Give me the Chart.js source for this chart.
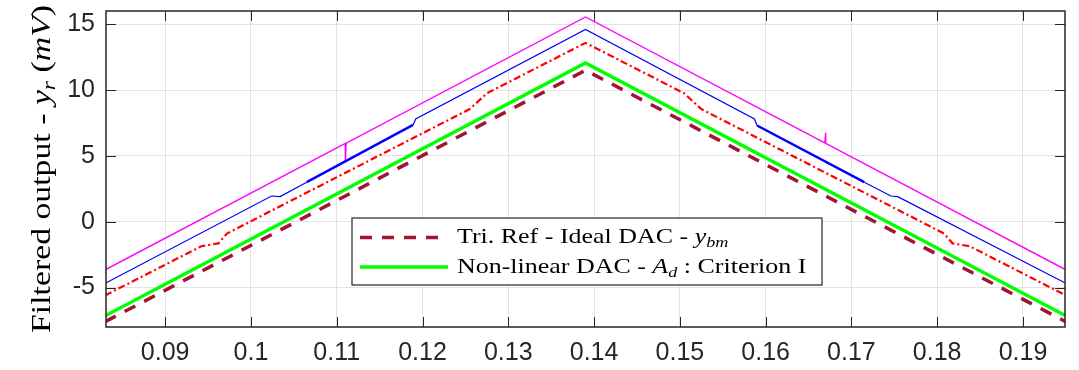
<!DOCTYPE html>
<html lang="en">
<head>
<meta charset="UTF-8">
<title>Filtered output</title>
<script src="https://cdn.jsdelivr.net/npm/chart.js"></script>
<style>
  body { margin: 0; background: #fff; }
  .chart-container { position: relative; width: 1079px; height: 370px; }
</style>
</head>
<body>
<div class="chart-container"><canvas id="outputChart"></canvas></div>
<script>
// axis ticks
const xTicks = [0.09, 0.1, 0.11, 0.12, 0.13, 0.14, 0.15, 0.16, 0.17, 0.18, 0.19];
const xTickLabels = ['0.09', '0.1', '0.11', '0.12', '0.13', '0.14', '0.15', '0.16', '0.17', '0.18', '0.19'];
const yTicks = [-5, 0, 5, 10, 15];
const yTickLabels = ['-5', '0', '5', '10', '15'];

// Tri. Ref - Ideal DAC (dashed)
const refX = [0.083, 0.139, 0.195];
const refY = [-7.6, 11.5, -7.6];

// Non-linear DAC - Criterion I (green)
const nlX = [0.083, 0.139, 0.195];
const nlY = [-7.15, 12.05, -7.15];

// red dash-dot
const redX = [0.083, 0.0942, 0.0962, 0.0972, 0.1255, 0.1275, 0.139, 0.1505, 0.1525, 0.1808, 0.1818, 0.1838, 0.195];
const redY = [-5.6, -1.87, -1.65, -0.9, 8.55, 9.75, 13.58, 9.75, 8.55, -0.9, -1.65, -1.87, -5.6];

// blue
const blueX = [0.083, 0.1024, 0.1034, 0.1065, 0.1189, 0.1192, 0.139, 0.1587, 0.159, 0.1715, 0.1746, 0.1754, 0.195];
const blueY = [-4.68, 1.95, 1.9, 3.0, 7.35, 7.8, 14.6, 7.8, 7.3, 3.0, 1.95, 1.9, -4.68];
const blueNoisy = [[0.1065, 0.1189], [0.159, 0.1715]];

// magenta
const magX = [0.083, 0.111, 0.111, 0.1111, 0.139, 0.1669, 0.167, 0.167, 0.195];
const magY = [-3.66, 5.94, 4.45, 5.97, 15.55, 5.98, 6.75, 5.95, -3.66];

const pts = (xs, ys) => xs.map((x, i) => ({ x: x, y: ys[i] }));

const serif = '"Liberation Serif", "Times New Roman", serif';
const stretch = 1.18;

// rich text: parts are [text, style], style '' | 'i' | 'sub'
function richWidth(ctx, parts, size) {
    let w = 0;
    parts.forEach(([t, s]) => {
        const fs = s === 'sub' ? size * 0.7 : size;
        ctx.font = (s ? 'italic ' : '') + fs + 'px ' + serif;
        w += ctx.measureText(t).width;
    });
    return w;
}
function drawRich(ctx, parts, size) {
    let cx = 0;
    parts.forEach(([t, s]) => {
        const fs = s === 'sub' ? size * 0.7 : size;
        ctx.font = (s ? 'italic ' : '') + fs + 'px ' + serif;
        ctx.fillText(t, cx, s === 'sub' ? size * 0.2 : 0);
        cx += ctx.measureText(t).width;
    });
}

const titleParts = [['Filtered output - ', ''], ['y', 'i'], ['r', 'sub'], [' (', ''], ['mV', 'i'], [')', '']];
const legendEntries = [
    { ds: 0, parts: [['Tri. Ref - Ideal DAC - ', ''], ['y', 'i'], ['bm', 'sub']] },
    { ds: 1, parts: [['Non-linear DAC - ', ''], ['A', 'i'], ['d', 'sub'], [' : Criterion I', '']] }
];

const decor = {
    id: 'decor',
    afterDatasetsDraw(chart) {
        const { ctx, chartArea: a, scales: { x, y } } = chart;
        ctx.save();
        // inner ticks on all four sides
        ctx.strokeStyle = '#262626';
        ctx.lineWidth = 1;
        ctx.beginPath();
        xTicks.forEach(v => {
            const px = Math.round(x.getPixelForValue(v)) + 0.5;
            ctx.moveTo(px, a.bottom); ctx.lineTo(px, a.bottom - 10);
            ctx.moveTo(px, a.top); ctx.lineTo(px, a.top + 10);
        });
        yTicks.forEach(v => {
            const py = Math.round(y.getPixelForValue(v)) + 0.5;
            ctx.moveTo(a.left, py); ctx.lineTo(a.left + 10, py);
            ctx.moveTo(a.right, py); ctx.lineTo(a.right - 10, py);
        });
        ctx.stroke();
        ctx.lineWidth = 1.5;
        ctx.strokeRect(a.left, a.top, a.right - a.left, a.bottom - a.top);

        // legend box
        const lx = 352, ly = 218, lw = 470, lh = 67;
        ctx.fillStyle = '#fff';
        ctx.fillRect(lx, ly, lw, lh);
        ctx.lineWidth = 1.2;
        ctx.strokeStyle = '#262626';
        ctx.strokeRect(lx, ly, lw, lh);
        legendEntries.forEach((e, i) => {
            const ds = chart.data.datasets[e.ds];
            const rowY = 237.5 + i * 29.5;
            ctx.save();
            ctx.strokeStyle = ds.borderColor;
            ctx.lineWidth = ds.borderWidth;
            ctx.setLineDash(ds.borderDash || []);
            ctx.beginPath();
            ctx.moveTo(360, rowY); ctx.lineTo(448, rowY);
            ctx.stroke();
            ctx.restore();
            ctx.save();
            ctx.translate(457, 242.5 + i * 30);
            ctx.scale(stretch, 1);
            ctx.fillStyle = '#000';
            ctx.textBaseline = 'alphabetic';
            drawRich(ctx, e.parts, 22);
            ctx.restore();
        });

        // y axis title
        const tSize = 27;
        const tw = richWidth(ctx, titleParts, tSize);
        const ts = 328 / tw;
        ctx.translate(50, (a.top + a.bottom) / 2);
        ctx.rotate(-Math.PI / 2);
        ctx.scale(ts, 1);
        ctx.fillStyle = '#000';
        ctx.textBaseline = 'alphabetic';
        ctx.translate(-tw / 2, 0);
        drawRich(ctx, titleParts, tSize);
        ctx.restore();
    }
};

const tickFont = { family: '"Liberation Sans", Arial, sans-serif', size: 25 };

new Chart(document.getElementById('outputChart'), {
    type: 'line',
    data: {
        datasets: [
            { label: 'Tri. Ref - Ideal DAC', data: pts(refX, refY), borderColor: '#A2142F', borderWidth: 3.5, borderDash: [12, 10] },
            { label: 'Non-linear DAC - Criterion I', data: pts(nlX, nlY), borderColor: '#00FF00', borderWidth: 3.5 },
            { label: 'red', data: pts(redX, redY), borderColor: '#FF0000', borderWidth: 2.2, borderDash: [7, 3, 2, 3] },
            {
                label: 'blue', data: pts(blueX, blueY), borderColor: '#0000FF', borderWidth: 1.2,
                segment: {
                    borderWidth: c => blueNoisy.some(r => c.p0.parsed.x >= r[0] && c.p1.parsed.x <= r[1]) ? 2.4 : 1.2
                }
            },
            { label: 'magenta', data: pts(magX, magY), borderColor: '#FF00FF', borderWidth: 1.4 }
        ]
    },
    options: {
        responsive: true,
        maintainAspectRatio: false,
        devicePixelRatio: 1,
        animation: false,
        layout: { padding: { top: 11, right: 14, left: 0, bottom: 0 } },
        elements: { point: { radius: 0 }, line: { tension: 0, borderCapStyle: 'butt' } },
        datasets: { line: { clip: 0 } },
        scales: {
            x: {
                type: 'linear',
                min: 0.0831,
                max: 0.1949,
                afterBuildTicks: s => { s.ticks = xTicks.map(v => ({ value: v })); },
                afterFit: s => { s.height = 43; s.paddingLeft = 0; s.paddingRight = 0; },
                grid: { color: '#e3e3e3', drawTicks: false },
                border: { display: false },
                ticks: {
                    font: tickFont, color: '#262626', padding: 11, maxRotation: 0, autoSkip: false,
                    callback: (v, i) => xTickLabels[i]
                }
            },
            y: {
                min: -8,
                max: 16,
                afterBuildTicks: s => { s.ticks = yTicks.map(v => ({ value: v })); },
                afterFit: s => { s.width = 106; s.paddingTop = 0; s.paddingBottom = 0; },
                grid: { color: '#e3e3e3', drawTicks: false },
                border: { display: false },
                ticks: {
                    font: tickFont, color: '#262626', padding: 11,
                    callback: (v, i) => yTickLabels[i]
                }
            }
        },
        plugins: {
            legend: { display: false },
            tooltip: { enabled: false }
        }
    },
    plugins: [decor]
});
</script>
</body>
</html>
